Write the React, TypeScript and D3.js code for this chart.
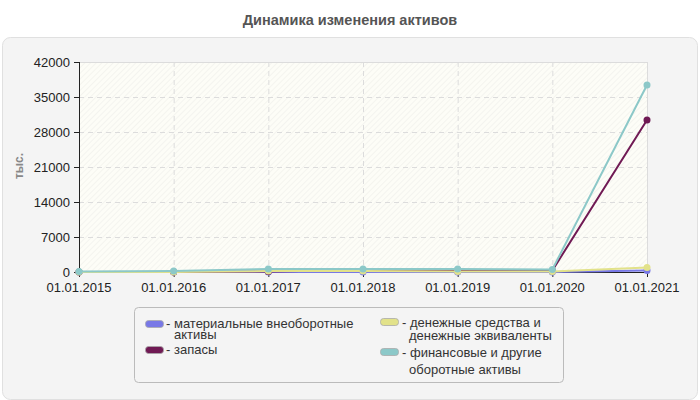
import React from "react";
import * as d3 from "d3";

const dates = ["01.01.2015", "01.01.2016", "01.01.2017", "01.01.2018", "01.01.2019", "01.01.2020", "01.01.2021"];
const yTicks = [0, 7000, 14000, 21000, 28000, 35000, 42000];

const tangibleAssets = [0, 0, 0, 0, 0, 0, 300];
const inventories = [0, 0, 100, 400, 400, 300, 30400];
const cashEquivalents = [0, 0, 200, 200, 100, 100, 900];
const financialAssets = [100, 200, 600, 600, 600, 500, 37400];

const seriesNames = [
  ["материальные внеоборотные", "активы"],
  ["запасы"],
  ["денежные средства и", "денежные эквиваленты"],
  ["финансовые и другие", "оборотные активы"],
];
const seriesColors = ["#7878e6", "#701a54", "#e2e28a", "#8cc8c8"];
const seriesValues = [tangibleAssets, inventories, cashEquivalents, financialAssets];

export default function App() {
  const left = 79, right = 647, top = 62, bottom = 272;
  const x = d3.scalePoint<string>().domain(dates).range([left, right]);
  const y = d3.scaleLinear().domain([0, 42000]).range([bottom, top]);
  const line = d3.line<number>().x((_, i) => x(dates[i])!).y((v) => y(v));
  const font = "'Liberation Sans', Arial, sans-serif";

  const legendItems = [
    { sx: 145, sy: 320, tx: 166, ty: 328, lines: seriesNames[0], indent: 8, lh: 11 },
    { sx: 145, sy: 346, tx: 166, ty: 354, lines: seriesNames[1], indent: 8, lh: 11 },
    { sx: 380, sy: 318, tx: 402, ty: 327, lines: seriesNames[2], indent: 7, lh: 13 },
    { sx: 380, sy: 348, tx: 402, ty: 357, lines: seriesNames[3], indent: 7, lh: 17 },
  ];

  return (
    <svg width={700} height={400} style={{ position: "absolute", left: 0, top: 0, fontFamily: font }}>
      <defs>
        <pattern id="hatch" width="4" height="4" patternUnits="userSpaceOnUse" patternTransform="rotate(45)">
          <rect width="4" height="4" fill="#fdfdf7" />
          <line x1="0" y1="0" x2="0" y2="4" stroke="#eeeeea" strokeWidth="1.2" />
        </pattern>
      </defs>
      <rect x={0} y={0} width={700} height={400} fill="#ffffff" />
      <text x={350} y={25} textAnchor="middle" fontSize={14.5} fontWeight="bold" fill="#555">
        Динамика изменения активов
      </text>
      <rect x={2.5} y={37.5} width={695} height={362} rx={8} fill="#f4f4f4" stroke="#e0e0e0" />
      <rect x={left} y={top} width={right - left} height={bottom - top} fill="url(#hatch)" />
      <line x1={left} x2={right} y1={top + 0.5} y2={top + 0.5} stroke="#dcdcdc" />
      <line x1={right + 0.5} x2={right + 0.5} y1={top} y2={bottom} stroke="#dcdcdc" />
      {yTicks.slice(1, -1).map((t) => (
        <line key={t} x1={left} x2={right} y1={Math.round(y(t)) + 0.5} y2={Math.round(y(t)) + 0.5} stroke="#dcdcdc" strokeDasharray="5,4" />
      ))}
      {dates.slice(1, -1).map((d) => (
        <line key={d} x1={x(d)! + 0.5} x2={x(d)! + 0.5} y1={top} y2={bottom} stroke="#dcdcdc" strokeDasharray="5,4" />
      ))}
      <line x1={left + 0.5} x2={left + 0.5} y1={top} y2={bottom} stroke="#222" />
      <line x1={left} x2={right} y1={bottom + 0.5} y2={bottom + 0.5} stroke="#222" />
      {yTicks.map((t) => (
        <g key={t}>
          <line x1={left - 5} x2={left} y1={Math.round(y(t)) + 0.5} y2={Math.round(y(t)) + 0.5} stroke="#222" />
          <text x={70} y={y(t) + 4.5} textAnchor="end" fontSize={13} fill="#222">{t}</text>
        </g>
      ))}
      {dates.map((d) => (
        <g key={d}>
          <line x1={x(d)! + 0.5} x2={x(d)! + 0.5} y1={bottom} y2={bottom + 5} stroke="#222" />
          <text x={x(d)!} y={292} textAnchor="middle" fontSize={13} fill="#222">{d}</text>
        </g>
      ))}
      <text transform="translate(23,166) rotate(-90)" textAnchor="middle" fontSize={12} fontWeight="bold" fill="#888">тыс.</text>
      {seriesValues.map((vals, si) => (
        <g key={si}>
          <path d={line(vals)!} fill="none" stroke={seriesColors[si]} strokeWidth={2} />
          {vals.map((v, i) => (
            <circle key={i} cx={x(dates[i])!} cy={y(v)} r={3.5} fill={seriesColors[si]} />
          ))}
        </g>
      ))}
      <rect x={134.5} y={307.5} width={429} height={75} rx={4} fill="#f4f4f4" stroke="#bbbbbb" />
      {legendItems.map((it, i) => (
        <g key={i}>
          <rect x={it.sx + 0.5} y={it.sy + 0.5} width={18} height={7} rx={3} fill={seriesColors[i]} stroke="#aaa" strokeWidth={0.8} />
          <text x={it.tx} y={it.ty} fontSize={13} fill="#333">- {it.lines[0]}</text>
          {it.lines.slice(1).map((l, j) => (
            <text key={j} x={it.tx + it.indent} y={it.ty + it.lh * (j + 1)} fontSize={13} fill="#333">{l}</text>
          ))}
        </g>
      ))}
    </svg>
  );
}
